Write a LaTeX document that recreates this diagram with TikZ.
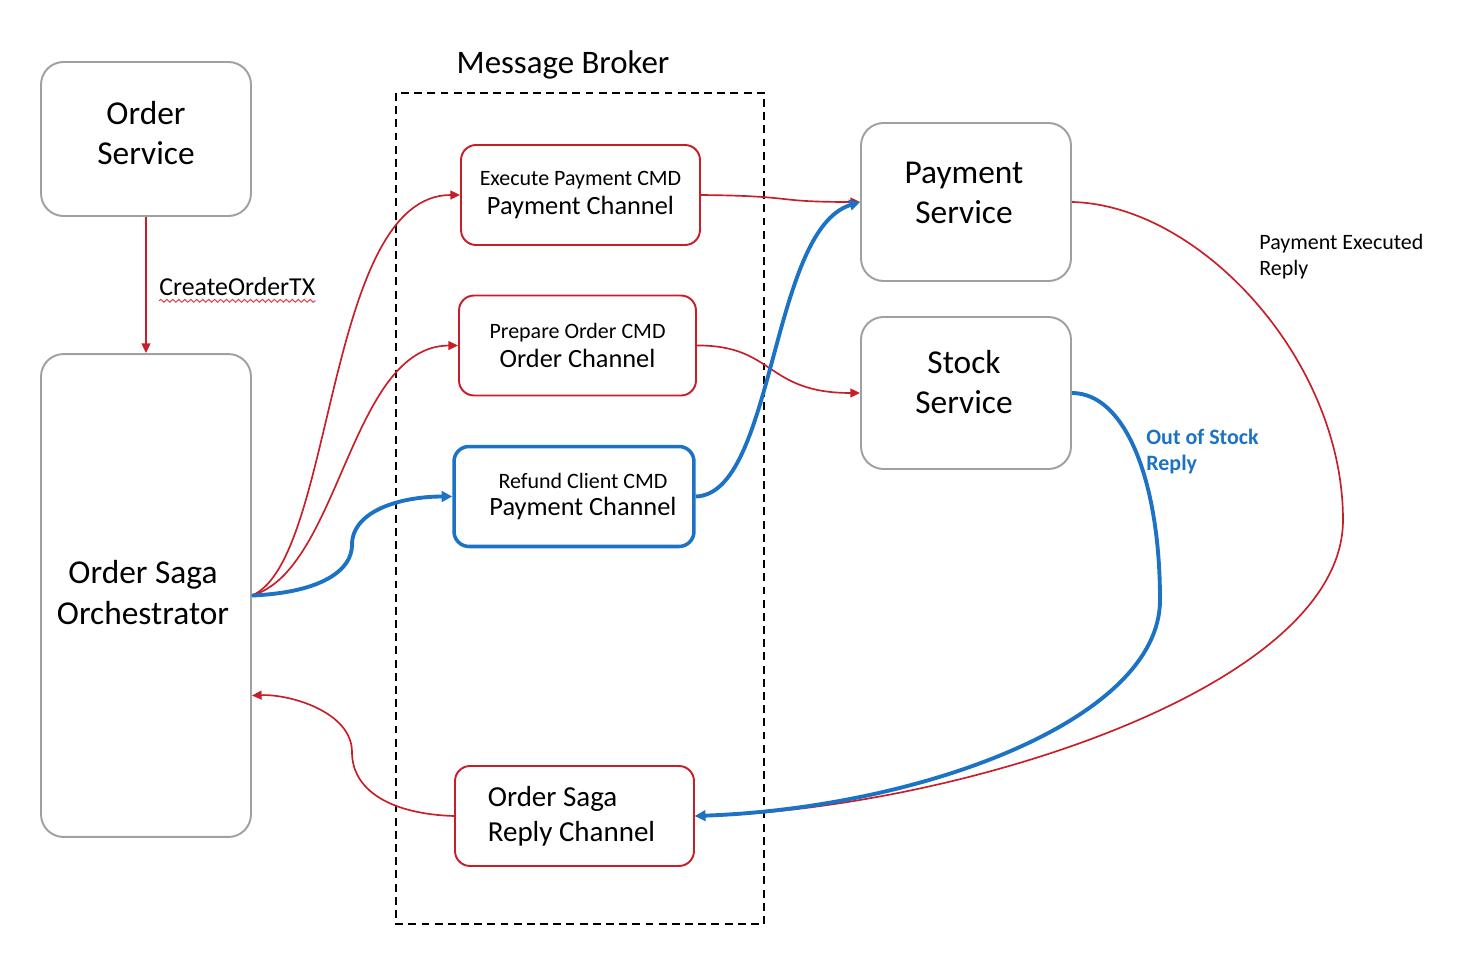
\documentclass[tikz,border=0pt]{standalone}
\usepackage{fontspec}
\setmainfont{Carlito}
\usetikzlibrary{arrows.meta}
\usetikzlibrary{positioning}
\usetikzlibrary{decorations.pathmorphing}
\definecolor{sagared}{RGB}{200,30,40}
\definecolor{sagablue}{RGB}{28,114,196}
\definecolor{boxgrey}{RGB}{160,160,160}
\newcommand{\chantext}[2]{{\fontsize{12.5}{15}\selectfont #1}\\[3.5pt]{\fontsize{15}{18}\selectfont #2}}
\tikzset{
  service/.style={draw=boxgrey, line width=1.1pt, rounded corners=0.45cm,
    inner sep=0pt, minimum width=4.2cm},
  servicetext/.style={align=center, inner sep=0pt, font=\fontsize{19}{23}\selectfont},
  channel/.style={draw=sagared, line width=1.1pt, rounded corners=0.3cm, align=center,
    inner sep=0pt, minimum width=4.78cm, minimum height=2cm},
  broker/.style={line width=1pt, dash pattern=on 4.5pt off 3pt},
  redflow/.style={sagared, line width=0.95pt, -{Triangle[length=5.5pt,width=5pt]}},
  blueflow/.style={sagablue, line width=2.2pt, -{Triangle[length=6pt,width=6pt]}},
}
\begin{document}
\begin{tikzpicture}[x=0.02cm, y=-0.02cm]
      \useasboundingbox (0,0) rectangle (1478,980);
      % services
      \node[service, minimum height=3.08cm] (os) at (146,139) {};
      \node[servicetext] (ostext) at (146,133) {Order\\Service};
      \node[service, minimum height=9.66cm] (orch) at (146,595.5) {};
      \node[servicetext] (orchtext) at (143,592.5) {Order Saga\\Orchestrator};
      \node[service, minimum height=3.16cm] (pay) at (966,202) {};
      \node[servicetext] (paytext) at (964,193) {Payment\\Service};
      \node[service, minimum height=3.04cm] (stock) at (966,393) {};
      \node[servicetext] (stocktext) at (964,382) {Stock\\Service};
      % broker and its channels
      \draw[broker] (396,93) rectangle (764,924);
      \node[font=\fontsize{18.7}{22}\selectfont] (brokertitle) at (563,65) {Message Broker};
      \node[channel] (exe) at (580.5,195) {\chantext{Execute Payment CMD}{Payment Channel}};
      \node[channel, minimum width=4.74cm] (prep) at (577.5,345.5) {\chantext{Prepare Order CMD}{Order Channel}};
      \node[channel, draw=sagablue, line width=2pt, minimum width=4.8cm] (refund) at (574,496.5)
        {\chantext{\hspace*{0.36cm}Refund Client CMD}{\hspace*{0.36cm}Payment Channel}};
      \node[channel, align=left, font=\fontsize{16.5}{20}\selectfont] (reply) at (574.5,816)
        {\hspace*{-0.12cm}Order Saga\\\hspace*{-0.12cm}Reply Channel};
      % labels
      \node[anchor=west, inner sep=0pt, font=\fontsize{14.7}{17}\selectfont] (txlabel) at (159,287) {CreateOrderTX};
      \draw[sagared!80, line width=0.6pt, decorate, decoration={snake, amplitude=0.8pt, segment length=3.4pt}]
        ([yshift=-2.5pt]txlabel.south west) -- ([yshift=-2.5pt]txlabel.south east);
      \node[anchor=north west, align=left, inner sep=0pt, font=\fontsize{12.5}{14.7}\selectfont] (paylabel)
        at (1259,234) {Payment Executed\\Reply};
      \node[anchor=north west, align=left, inner sep=0pt, text=sagablue, font=\bfseries\fontsize{12.5}{14.7}\selectfont]
        (stocklabel) at (1146,429) {Out of Stock\\Reply};
      % bends
      \coordinate (refundbend) at (352,545);
      \coordinate (replybend) at (352,752);
      \coordinate (payfar) at (1343,520);
      \coordinate (stockfar) at (1160,600);
      % flows
      \draw[redflow] (os.south) -- (orch.north);
      \draw[redflow] (orch.east) .. controls (335,560) and (325,195) .. (exe.west);
      \draw[redflow] (orch.east) .. controls (340,570) and (350,346) .. (prep.west);
      \draw[blueflow] (orch.east) .. controls +(70,-3) and +(0,25) .. (refundbend)
        .. controls +(0,-35) and +(-50,0) .. (refund.west);
      \draw[redflow] (exe.east) .. controls (800,196) and (770,202) .. (pay.west);
      \draw[redflow] (prep.east) .. controls (775,345) and (765,393) .. (stock.west);
      \draw[blueflow] (refund.east) .. controls (775,494) and (770,230) .. (pay.west);
      \draw[redflow] (pay.east) .. controls (1200,205) and (1343,360) .. (payfar)
        .. controls (1343,690) and (950,810) .. (reply.east);
      \draw[blueflow] (stock.east) .. controls (1125,393) and (1160,480) .. (stockfar)
        .. controls (1160,720) and (920,808) .. (reply.east);
      \draw[redflow] (reply.west) .. controls (390,814) and (352,790) .. (replybend)
        .. controls (352,712) and (290,694) .. ([yshift=-2cm]orch.east);
\end{tikzpicture}
\end{document}
